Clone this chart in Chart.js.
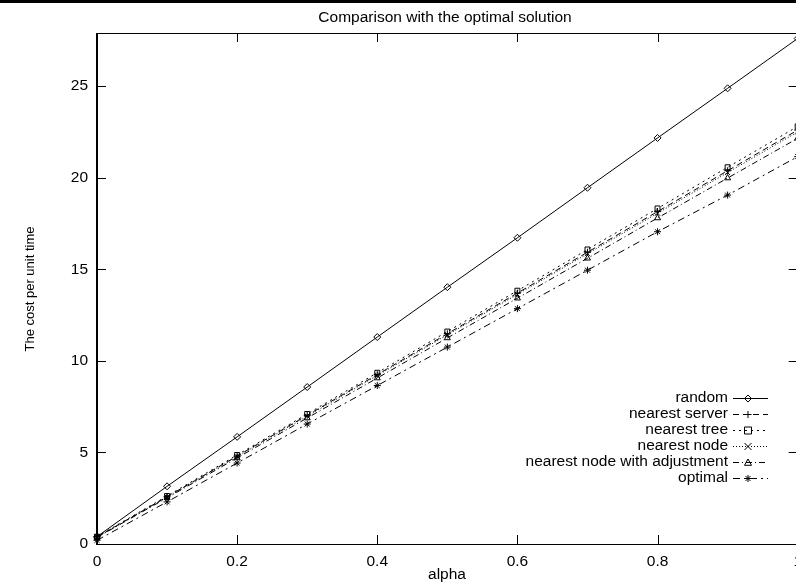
<!DOCTYPE html>
<html>
<head>
<meta charset="utf-8">
<script src="https://cdn.jsdelivr.net/npm/chart.js@4.4.1/dist/chart.umd.min.js"></script>
<style>
    html, body { margin: 0; padding: 0; background: #fff; overflow: hidden; }
    #costChart { display: block; }
</style>
</head>
<body>
<canvas id="costChart" width="810" height="582"></canvas>
<script>
// alpha values on the x axis
const alphas = [0, 0.1, 0.2, 0.3, 0.4, 0.5, 0.6, 0.7, 0.8, 0.9, 1.0];

// series values
const randomCost = [0.4, 3.15, 5.85, 8.57, 11.3, 14.02, 16.72, 19.45, 22.17, 24.88, 27.6];
const nearestServer = [0.38, 2.58, 4.8, 7.03, 9.25, 11.48, 13.7, 15.93, 18.15, 20.38, 22.6];
const nearestTree = [0.4, 2.62, 4.86, 7.1, 9.35, 11.6, 13.83, 16.08, 18.32, 20.57, 22.8];
const nearestNode = [0.37, 2.56, 4.77, 6.98, 9.2, 11.42, 13.63, 15.85, 18.06, 20.28, 22.5];
const nearestNodeAdj = [0.36, 2.52, 4.7, 6.88, 9.06, 11.25, 13.42, 15.6, 17.8, 19.98, 22.15];
const optimalCost = [0.2, 2.3, 4.42, 6.55, 8.65, 10.75, 12.85, 14.95, 17.05, 19.05, 21.15];

// tick labels
const xTicks = [0, 0.2, 0.4, 0.6, 0.8, 1];
const yTicks = [0, 5, 10, 15, 20, 25];

const FONT = '"Liberation Sans", Arial, Helvetica, sans-serif';
const FONT_SIZE = 15.5;

function series(label, values, pointStyle, dash) {
    return {
        label: label,
        data: values.map((v, i) => ({ x: alphas[i], y: v })),
        borderColor: '#000',
        backgroundColor: 'rgba(0,0,0,0)',
        pointBorderColor: '#000',
        pointBackgroundColor: 'rgba(0,0,0,0)',
        borderWidth: 1,
        pointBorderWidth: 1,
        pointRadius: 3.5,
        pointStyle: pointStyle,
        borderDash: dash,
        tension: 0,
        clip: false
    };
}

const datasets = [
    series('random', randomCost, 'rectRot', []),
    series('nearest server', nearestServer, 'cross', [6, 4]),
    series('nearest tree', nearestTree, 'rect', [2, 4]),
    series('nearest node', nearestNode, 'crossRot', [1, 2]),
    series('nearest node with adjustment', nearestNodeAdj, 'triangle', [6, 3, 1, 3]),
    series('optimal', optimalCost, 'star', [7, 4, 2, 4])
];

// marker for the legend samples (same shapes as the chart points)
function drawMarker(ctx, style, x, y, r) {
    ctx.beginPath();
    if (style === 'rectRot') {
        ctx.moveTo(x, y - r); ctx.lineTo(x + r, y); ctx.lineTo(x, y + r); ctx.lineTo(x - r, y); ctx.closePath();
    } else if (style === 'rect') {
        ctx.rect(x - r, y - r, 2 * r, 2 * r);
    } else if (style === 'cross') {
        ctx.moveTo(x - r, y); ctx.lineTo(x + r, y); ctx.moveTo(x, y - r); ctx.lineTo(x, y + r);
    } else if (style === 'crossRot') {
        ctx.moveTo(x - r, y - r); ctx.lineTo(x + r, y + r); ctx.moveTo(x + r, y - r); ctx.lineTo(x - r, y + r);
    } else if (style === 'triangle') {
        ctx.moveTo(x, y - r); ctx.lineTo(x + r, y + r * 0.8); ctx.lineTo(x - r, y + r * 0.8); ctx.closePath();
    } else if (style === 'star') {
        ctx.moveTo(x - r, y); ctx.lineTo(x + r, y); ctx.moveTo(x, y - r); ctx.lineTo(x, y + r);
        ctx.moveTo(x - r * 0.7, y - r * 0.7); ctx.lineTo(x + r * 0.7, y + r * 0.7);
        ctx.moveTo(x + r * 0.7, y - r * 0.7); ctx.lineTo(x - r * 0.7, y + r * 0.7);
    }
    ctx.stroke();
}

const gnuplotLook = {
    id: 'gnuplotLook',
    beforeDraw(chart) {
        const ctx = chart.ctx;
        ctx.save();
        ctx.fillStyle = '#fff';
        ctx.fillRect(0, 0, chart.width, chart.height);
        ctx.restore();
    },
    afterDraw(chart) {
        const ctx = chart.ctx;
        const a = chart.chartArea;
        const xs = chart.scales.x;
        const ys = chart.scales.y;
        ctx.save();

        // thick bar along the top of the page
        ctx.fillStyle = '#000';
        ctx.fillRect(0, 0, chart.width, 3);

        // frame
        ctx.strokeStyle = '#000';
        ctx.lineWidth = 1;
        ctx.strokeRect(Math.round(a.left) + 0.5, Math.round(a.top) + 0.5,
            Math.round(a.right - a.left), Math.round(a.bottom - a.top));
        ctx.fillRect(Math.round(a.left) - 1, a.top, 2, a.bottom - a.top + 1);

        // inward ticks on all four sides
        ctx.beginPath();
        xTicks.forEach(v => {
            const px = Math.round(xs.getPixelForValue(v)) + 0.5;
            ctx.moveTo(px, a.bottom); ctx.lineTo(px, a.bottom - 9);
            ctx.moveTo(px, a.top); ctx.lineTo(px, a.top + 9);
        });
        yTicks.forEach(v => {
            const py = Math.round(ys.getPixelForValue(v)) + 0.5;
            ctx.moveTo(a.left, py); ctx.lineTo(a.left + 9, py);
            ctx.moveTo(a.right, py); ctx.lineTo(a.right - 9, py);
        });
        ctx.stroke();

        // title and axis titles
        ctx.fillStyle = '#000';
        ctx.font = FONT_SIZE + 'px ' + FONT;
        ctx.textAlign = 'center';
        ctx.textBaseline = 'middle';
        ctx.fillText('Comparison with the optimal solution', 445, 18);
        ctx.fillText('alpha', 447, 575);
        ctx.save();
        ctx.font = '13px ' + FONT;
        ctx.translate(30, 289);
        ctx.rotate(-Math.PI / 2);
        ctx.fillText('The cost per unit time', 0, 0);
        ctx.restore();

        // key, gnuplot style: text on the left, sample on the right
        ctx.textAlign = 'right';
        chart.data.datasets.forEach((ds, i) => {
            const y = 398 + i * 16;
            ctx.fillText(ds.label, 728, y);
            ctx.beginPath();
            ctx.setLineDash(ds.borderDash);
            ctx.moveTo(733, y + 0.5);
            ctx.lineTo(768, y + 0.5);
            ctx.stroke();
            ctx.setLineDash([]);
            drawMarker(ctx, ds.pointStyle, 748, y + 0.5, 3.5);
        });

        ctx.restore();
    }
};

new Chart(document.getElementById('costChart').getContext('2d'), {
    type: 'line',
    data: { datasets: datasets },
    options: {
        responsive: false,
        animation: false,
        devicePixelRatio: 1,
        layout: { padding: { top: 33, right: 8, left: 0, bottom: 0 } },
        plugins: {
            legend: { display: false },
            title: { display: false },
            tooltip: { enabled: false }
        },
        scales: {
            x: {
                type: 'linear',
                min: 0,
                max: 1,
                afterFit: s => { s.height = 38; },
                afterBuildTicks: s => { s.ticks = xTicks.map(v => ({ value: v })); },
                grid: { display: false, drawTicks: false },
                border: { display: false },
                ticks: {
                    color: '#000',
                    padding: 8,
                    maxRotation: 0,
                    font: { family: FONT, size: FONT_SIZE },
                    callback: v => String(v)
                }
            },
            y: {
                type: 'linear',
                min: 0,
                max: 27.9,
                afterFit: s => { s.width = 97; },
                afterBuildTicks: s => { s.ticks = yTicks.map(v => ({ value: v })); },
                grid: { display: false, drawTicks: false },
                border: { display: false },
                ticks: {
                    color: '#000',
                    padding: 9,
                    font: { family: FONT, size: FONT_SIZE },
                    callback: v => String(v)
                }
            }
        }
    },
    plugins: [gnuplotLook]
});
</script>
</body>
</html>
